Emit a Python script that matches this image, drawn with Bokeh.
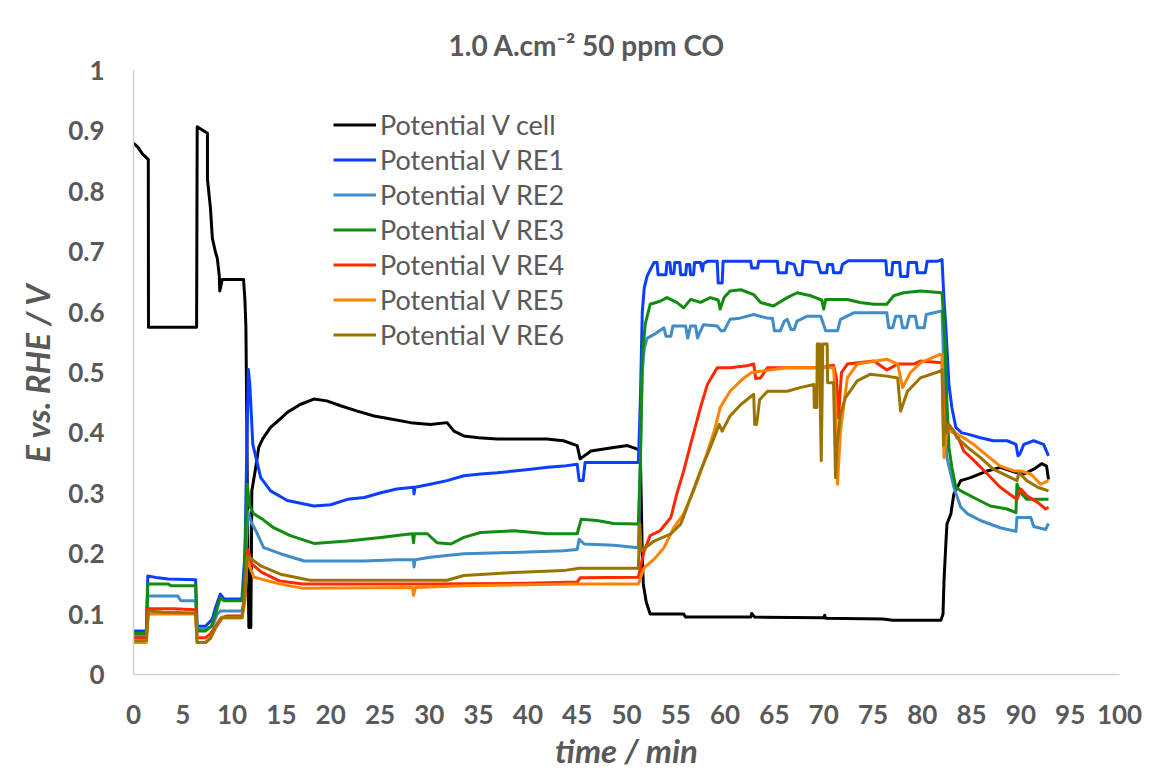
from bokeh.plotting import figure
from bokeh.models import (Range1d, FixedTicker, NumeralTickFormatter, Legend,
                          LegendItem, Title)
from bokeh.embed import file_html
from bokeh.resources import INLINE

# ---------------- texts ----------------
TITLE = "1.0 A.cm\u207b\u00b2 50 ppm CO"
X_TITLE = "time / min"
Y_TITLE = "E vs. RHE / V"

x_ticks = list(range(0, 101, 5))
y_ticks = [0, 0.1, 0.2, 0.3, 0.4, 0.5, 0.6, 0.7, 0.8, 0.9, 1.0]

names = ["Potential V cell", "Potential V RE1", "Potential V RE2",
         "Potential V RE3", "Potential V RE4", "Potential V RE5",
         "Potential V RE6"]
colors = ["#000000", "#0B3EFF", "#408CC8", "#118C11", "#FF2800",
          "#FF8200", "#9B7300"]

# ---------------- data: (time / min, E / V) ----------------
cell = [(0, 0.880), (0.5, 0.872), (0.9, 0.862), (1.5, 0.853), (1.52, 0.575),
        (6.4, 0.575), (6.46, 0.907), (7.5, 0.896), (7.5, 0.82), (7.8, 0.773),
        (8.0, 0.722), (8.3, 0.70), (8.5, 0.689), (8.7, 0.66), (8.75, 0.635),
        (9.0, 0.654), (10.0, 0.654), (11.16, 0.654), (11.3, 0.62), (11.4, 0.575),
        (11.5, 0.40), (11.6, 0.20), (11.7, 0.078), (11.9, 0.078), (12.0, 0.304),
        (12.4, 0.343), (12.7, 0.376), (13.1, 0.39), (13.9, 0.409), (14.8, 0.422),
        (15.6, 0.434), (16.9, 0.447), (18.3, 0.456), (19.6, 0.453), (21.0, 0.445),
        (22.7, 0.436), (24.4, 0.428), (26.1, 0.423), (28.1, 0.417), (30.1, 0.414),
        (31.8, 0.417), (32.5, 0.403), (33.5, 0.395), (35.0, 0.392), (36.9, 0.39),
        (39.2, 0.39), (41.9, 0.39), (43.6, 0.387), (45.0, 0.379), (45.3, 0.357),
        (46.4, 0.37), (48.7, 0.376), (50.1, 0.379), (51.1, 0.373), (51.4, 0.37),
        (51.6, 0.20), (51.7, 0.15), (52.0, 0.12), (52.4, 0.10), (55.8, 0.10),
        (56.0, 0.095), (62.6, 0.095), (62.7, 0.101), (63.0, 0.095), (70.0, 0.094),
        (70.1, 0.098), (70.2, 0.093), (76.0, 0.092), (77.0, 0.09), (81.9, 0.09),
        (82.1, 0.10), (82.2, 0.155), (82.4, 0.22), (82.5, 0.249), (82.9, 0.266),
        (83.2, 0.299), (83.9, 0.321), (84.9, 0.326), (86.6, 0.337), (87.9, 0.343),
        (89.6, 0.334), (90.3, 0.332), (91.3, 0.34), (92.1, 0.349), (92.6, 0.345),
        (92.8, 0.323)]

re1 = [(0, 0.072), (1.3, 0.072), (1.45, 0.163), (2.5, 0.160), (3.5, 0.158),
       (6.3, 0.157), (6.45, 0.080), (7.3, 0.080), (8.0, 0.092), (8.3, 0.11),
       (8.8, 0.133), (9.2, 0.125), (11.0, 0.125), (11.1, 0.15), (11.3, 0.20),
       (11.5, 0.38), (11.65, 0.505), (11.8, 0.48), (12.1, 0.381), (12.9, 0.326),
       (13.9, 0.304), (15.6, 0.288), (18.3, 0.279), (20.0, 0.281), (21.7, 0.29),
       (23.4, 0.293), (25.1, 0.301), (26.7, 0.307), (28.4, 0.31), (28.45, 0.299),
       (28.55, 0.31), (30.1, 0.315), (31.8, 0.321), (33.5, 0.329), (35.2, 0.332),
       (36.9, 0.334), (38.6, 0.337), (40.3, 0.34), (42.0, 0.343), (43.6, 0.345),
       (45.0, 0.348), (45.2, 0.321), (45.6, 0.321), (45.8, 0.351), (51.2, 0.351),
       (51.4, 0.45), (51.6, 0.60), (51.8, 0.64), (52.1, 0.66), (52.5, 0.673),
       (52.8, 0.682), (53.1, 0.682), (53.2, 0.662), (54.0, 0.662), (54.1, 0.682),
       (54.4, 0.682), (54.5, 0.664), (54.8, 0.664), (54.9, 0.682), (55.4, 0.682),
       (55.5, 0.662), (56.0, 0.662), (56.1, 0.679), (56.4, 0.679), (56.5, 0.662),
       (56.8, 0.662), (56.9, 0.682), (57.5, 0.682), (57.7, 0.668), (57.8, 0.68),
       (58.2, 0.684), (59.2, 0.684), (59.3, 0.648), (59.7, 0.648), (59.8, 0.684),
       (62.6, 0.684), (62.7, 0.673), (63.3, 0.673), (63.4, 0.684), (65.3, 0.684),
       (65.4, 0.665), (66.2, 0.665), (66.3, 0.682), (67.0, 0.679), (67.3, 0.662),
       (67.8, 0.662), (67.9, 0.684), (69.4, 0.682), (69.7, 0.665), (70.3, 0.665),
       (70.4, 0.679), (70.9, 0.679), (71.0, 0.665), (71.7, 0.665), (71.9, 0.679),
       (72.5, 0.685), (76.3, 0.685), (76.4, 0.662), (76.9, 0.662), (77.0, 0.682),
       (77.7, 0.682), (77.8, 0.659), (78.5, 0.659), (78.6, 0.682), (79.4, 0.682),
       (79.5, 0.665), (80.3, 0.665), (80.5, 0.684), (81.5, 0.684), (82.0, 0.687),
       (82.2, 0.62), (82.4, 0.572), (82.7, 0.48), (83.0, 0.442), (83.4, 0.409),
       (84.0, 0.40), (84.6, 0.398), (85.9, 0.392), (87.2, 0.387), (88.6, 0.387),
       (89.5, 0.381), (89.7, 0.362), (89.9, 0.365), (90.3, 0.381), (91.3, 0.387),
       (92.3, 0.381), (92.8, 0.362)]

re2 = [(0, 0.064), (1.3, 0.064), (1.45, 0.130), (4.5, 0.130), (4.8, 0.122),
       (6.3, 0.122), (6.45, 0.075), (7.3, 0.075), (8.0, 0.080), (8.5, 0.10),
       (8.8, 0.105), (11.0, 0.105), (11.2, 0.12), (11.4, 0.20), (11.6, 0.27),
       (12.0, 0.25), (12.5, 0.235), (13.2, 0.21), (14.9, 0.20), (17.3, 0.188),
       (23.4, 0.188), (26.7, 0.19), (28.4, 0.19), (28.45, 0.178), (28.55, 0.19),
       (30.1, 0.194), (33.5, 0.20), (38.6, 0.202), (43.6, 0.205), (45.0, 0.207),
       (45.2, 0.224), (45.7, 0.216), (48.7, 0.214), (51.2, 0.21), (51.4, 0.35),
       (51.6, 0.50), (51.8, 0.54), (52.1, 0.557), (52.8, 0.563), (53.8, 0.574),
       (54.0, 0.56), (54.5, 0.56), (54.7, 0.577), (56.0, 0.577), (56.2, 0.557),
       (56.5, 0.577), (57.0, 0.577), (57.2, 0.557), (57.4, 0.565), (57.8, 0.579),
       (59.2, 0.577), (59.6, 0.569), (59.9, 0.569), (60.5, 0.588), (61.5, 0.59),
       (62.9, 0.596), (64.3, 0.59), (64.8, 0.59), (65.0, 0.569), (65.6, 0.569),
       (66.0, 0.585), (66.3, 0.588), (66.7, 0.571), (67.0, 0.571), (67.3, 0.585),
       (68.3, 0.593), (69.7, 0.593), (70.2, 0.569), (71.4, 0.569), (71.7, 0.588),
       (73.1, 0.599), (76.4, 0.599), (76.6, 0.574), (77.0, 0.574), (77.3, 0.593),
       (77.8, 0.593), (78.0, 0.574), (78.4, 0.574), (78.7, 0.593), (79.3, 0.593),
       (79.5, 0.574), (80.2, 0.574), (80.4, 0.596), (82.0, 0.602), (82.2, 0.50),
       (82.4, 0.40), (82.5, 0.359), (83.2, 0.31), (83.9, 0.277), (84.6, 0.266),
       (85.9, 0.255), (87.9, 0.243), (89.5, 0.237), (89.6, 0.26), (91.0, 0.26),
       (91.3, 0.245), (92.5, 0.24), (92.8, 0.25)]

re3 = [(0, 0.068), (1.3, 0.068), (1.45, 0.150), (3.5, 0.150), (3.8, 0.147),
       (6.3, 0.147), (6.45, 0.072), (7.3, 0.072), (7.9, 0.080), (8.5, 0.11),
       (8.8, 0.127), (9.2, 0.122), (11.0, 0.122), (11.2, 0.15), (11.4, 0.25),
       (11.55, 0.315), (11.75, 0.28), (12.2, 0.266), (13.0, 0.258), (14.2, 0.243),
       (15.9, 0.23), (18.3, 0.217), (21.7, 0.221), (25.1, 0.227), (26.7, 0.23),
       (28.3, 0.233), (28.4, 0.218), (28.5, 0.233), (29.8, 0.233), (30.8, 0.218),
       (32.2, 0.216), (33.5, 0.227), (35.2, 0.235), (38.6, 0.238), (42.0, 0.233),
       (45.0, 0.233), (45.4, 0.257), (47.0, 0.255), (48.7, 0.25), (51.2, 0.249),
       (51.4, 0.348), (51.6, 0.524), (51.9, 0.58), (52.4, 0.613), (53.4, 0.618),
       (54.1, 0.624), (55.1, 0.616), (55.8, 0.607), (56.5, 0.621), (57.5, 0.616),
       (58.5, 0.624), (59.3, 0.62), (59.5, 0.605), (59.9, 0.624), (60.5, 0.635),
       (61.6, 0.637), (62.9, 0.629), (63.6, 0.616), (64.9, 0.61), (66.3, 0.624),
       (67.3, 0.632), (68.7, 0.627), (69.8, 0.62), (70.0, 0.605), (70.2, 0.621),
       (72.4, 0.621), (73.7, 0.616), (75.1, 0.613), (76.4, 0.613), (77.1, 0.627),
       (78.1, 0.632), (79.8, 0.635), (82.0, 0.632), (82.3, 0.55), (82.5, 0.45),
       (82.7, 0.376), (83.0, 0.343), (83.4, 0.31), (83.9, 0.304), (85.2, 0.293),
       (86.9, 0.279), (88.6, 0.274), (89.5, 0.268), (89.6, 0.315), (90.0, 0.30),
       (90.6, 0.29), (92.0, 0.29), (92.8, 0.29)]

re4 = [(0, 0.061), (1.3, 0.061), (1.45, 0.109), (4.0, 0.109), (6.3, 0.107),
       (6.45, 0.061), (7.3, 0.061), (7.8, 0.067), (8.3, 0.080), (8.9, 0.094),
       (9.5, 0.097), (11.0, 0.097), (11.3, 0.13), (11.5, 0.19), (11.6, 0.207),
       (12.0, 0.183), (13.0, 0.169), (14.8, 0.155), (17.1, 0.15), (30.0, 0.15),
       (40.0, 0.151), (45.0, 0.153), (45.3, 0.16), (51.2, 0.161), (51.8, 0.205),
       (52.4, 0.23), (53.4, 0.238), (54.5, 0.26), (55.1, 0.299), (55.8, 0.337),
       (56.5, 0.381), (57.5, 0.442), (58.2, 0.48), (59.2, 0.508), (60.5, 0.508),
       (62.2, 0.511), (62.9, 0.514), (63.1, 0.49), (63.6, 0.491), (64.3, 0.508),
       (66.3, 0.508), (68.3, 0.508), (69.7, 0.508), (71.0, 0.512), (71.3, 0.49),
       (71.5, 0.425), (71.8, 0.50), (72.4, 0.514), (73.5, 0.516), (75.1, 0.519),
       (76.4, 0.504), (77.5, 0.514), (79.1, 0.514), (79.8, 0.519), (82.0, 0.516),
       (82.2, 0.425), (82.5, 0.41), (82.9, 0.403), (83.5, 0.398), (84.2, 0.37),
       (85.2, 0.355), (86.6, 0.332), (87.9, 0.31), (88.9, 0.298), (89.6, 0.29),
       (90.0, 0.307), (90.6, 0.296), (91.7, 0.285), (92.5, 0.274), (92.8, 0.277)]

re5 = [(0, 0.053), (1.3, 0.053), (1.5, 0.100), (6.3, 0.100), (6.45, 0.053),
       (7.3, 0.053), (7.8, 0.060), (8.3, 0.077), (9.0, 0.094), (11.0, 0.094),
       (11.3, 0.12), (11.5, 0.18), (11.6, 0.188), (12.2, 0.161), (14.8, 0.15),
       (17.1, 0.143), (28.3, 0.144), (28.4, 0.131), (28.6, 0.144), (33.5, 0.147),
       (45.0, 0.15), (51.2, 0.15), (51.8, 0.177), (52.8, 0.191), (53.8, 0.21),
       (54.8, 0.243), (55.8, 0.266), (56.8, 0.304), (57.8, 0.348), (58.9, 0.403),
       (59.5, 0.442), (60.5, 0.469), (61.9, 0.491), (62.7, 0.50), (63.6, 0.502),
       (66.3, 0.508), (69.0, 0.508), (71.0, 0.508), (71.2, 0.45), (71.4, 0.315),
       (71.7, 0.403), (72.4, 0.491), (73.4, 0.514), (76.4, 0.522), (77.5, 0.514),
       (78.0, 0.475), (78.8, 0.50), (79.8, 0.516), (81.8, 0.53), (82.0, 0.53),
       (82.2, 0.359), (82.5, 0.403), (83.2, 0.403), (83.5, 0.398), (84.2, 0.392),
       (85.2, 0.381), (86.6, 0.362), (87.9, 0.345), (89.3, 0.337), (90.0, 0.337),
       (91.0, 0.332), (92.0, 0.315), (92.8, 0.321)]

re6 = [(0, 0.056), (1.3, 0.056), (1.5, 0.105), (3.0, 0.103), (6.3, 0.102),
       (6.45, 0.053), (7.3, 0.053), (7.8, 0.060), (8.3, 0.077), (9.0, 0.094),
       (11.0, 0.094), (11.3, 0.13), (11.55, 0.196), (11.7, 0.194), (12.9, 0.18),
       (14.9, 0.166), (17.9, 0.156), (31.8, 0.156), (33.5, 0.164), (38.6, 0.169),
       (43.6, 0.172), (45.2, 0.176), (51.2, 0.176), (51.35, 0.249), (51.5, 0.205),
       (52.8, 0.221), (54.5, 0.233), (55.5, 0.249), (56.5, 0.293), (57.5, 0.337),
       (58.5, 0.376), (59.4, 0.414), (59.7, 0.403), (60.5, 0.428), (61.6, 0.447),
       (62.9, 0.464), (63.0, 0.414), (63.2, 0.414), (63.5, 0.455), (64.3, 0.469),
       (66.3, 0.469), (67.6, 0.475), (69.0, 0.48), (69.05, 0.442), (69.3, 0.442),
       (69.35, 0.547), (69.6, 0.547), (69.65, 0.45), (69.75, 0.354), (69.85, 0.47),
       (69.9, 0.547), (70.35, 0.547), (70.4, 0.483), (71.0, 0.483), (71.2, 0.326),
       (71.35, 0.38), (71.7, 0.431), (72.2, 0.458), (73.4, 0.486), (74.7, 0.497),
       (76.4, 0.494), (77.5, 0.491), (77.8, 0.436), (78.5, 0.469), (79.8, 0.491),
       (81.8, 0.502), (82.0, 0.505), (82.15, 0.38), (82.3, 0.42), (82.5, 0.40),
       (82.7, 0.414), (83.2, 0.403), (83.5, 0.392), (84.6, 0.376), (85.9, 0.359),
       (87.2, 0.34), (88.6, 0.329), (89.6, 0.321), (89.8, 0.334), (90.6, 0.321),
       (91.7, 0.31), (92.8, 0.304)]

series = [cell, re1, re2, re3, re4, re5, re6]

# ---------------- figure ----------------
GRAY = "#595959"
FONT = "Lato"

p = figure(width=1163, height=779, output_backend="svg", toolbar_location=None,
           x_range=Range1d(0, 100), y_range=Range1d(0, 1),
           min_border_left=133, min_border_right=44,
           min_border_top=70, min_border_bottom=105,
           styles={"outline": "1.5px solid #D9D9D9", "outline-offset": "-4px"})
p.grid.visible = False
p.outline_line_color = None
p.background_fill_color = "white"
p.border_fill_color = "white"

for ax in (p.xaxis[0], p.yaxis[0]):
    ax.axis_line_color = "#D0D0D0"
    ax.axis_line_width = 1.5
    ax.major_tick_line_color = None
    ax.minor_tick_line_color = None
    ax.major_tick_out = 0
    ax.major_tick_in = 0
    ax.minor_tick_out = 0
    ax.minor_tick_in = 0
    ax.major_label_text_font = FONT
    ax.major_label_text_font_style = "bold"
    ax.major_label_text_font_size = "26px"
    ax.major_label_text_color = GRAY
    ax.axis_label_text_font = FONT
    ax.axis_label_text_font_style = "bold italic"
    ax.axis_label_text_font_size = "33px"
    ax.axis_label_text_color = GRAY

p.xaxis.ticker = FixedTicker(ticks=x_ticks)
p.yaxis.ticker = FixedTicker(ticks=y_ticks)
p.yaxis.formatter = NumeralTickFormatter(format="0.[0]")
p.xaxis.major_label_standoff = 30
p.yaxis.major_label_standoff = 29
p.xaxis.axis_label = X_TITLE
p.yaxis.axis_label = Y_TITLE
p.xaxis.axis_label_standoff = 3
p.yaxis.axis_label_standoff = 8

p.add_layout(Title(text=TITLE, align="left", offset=315, standoff=17,
                   text_font=FONT, text_font_style="bold",
                   text_font_size="28px", text_color=GRAY), "above")

renderers = []
for data, col in zip(series, colors):
    xs = [d[0] for d in data]
    ys = [d[1] for d in data]
    r = p.line(xs, ys, line_color=col, line_width=3, line_join="round")
    renderers.append(r)

legend = Legend(items=[LegendItem(label=n, renderers=[r])
                       for n, r in zip(names, renderers)],
                location=(200, 322.5), glyph_width=43, glyph_height=35,
                label_height=35, spacing=0, padding=0, margin=0,
                label_standoff=4, border_line_color=None,
                background_fill_alpha=0, label_text_font=FONT,
                label_text_font_size="27px", label_text_color=GRAY,
                label_text_baseline="middle")
p.add_layout(legend)

open("out.html", "w").write(file_html(p, INLINE))
